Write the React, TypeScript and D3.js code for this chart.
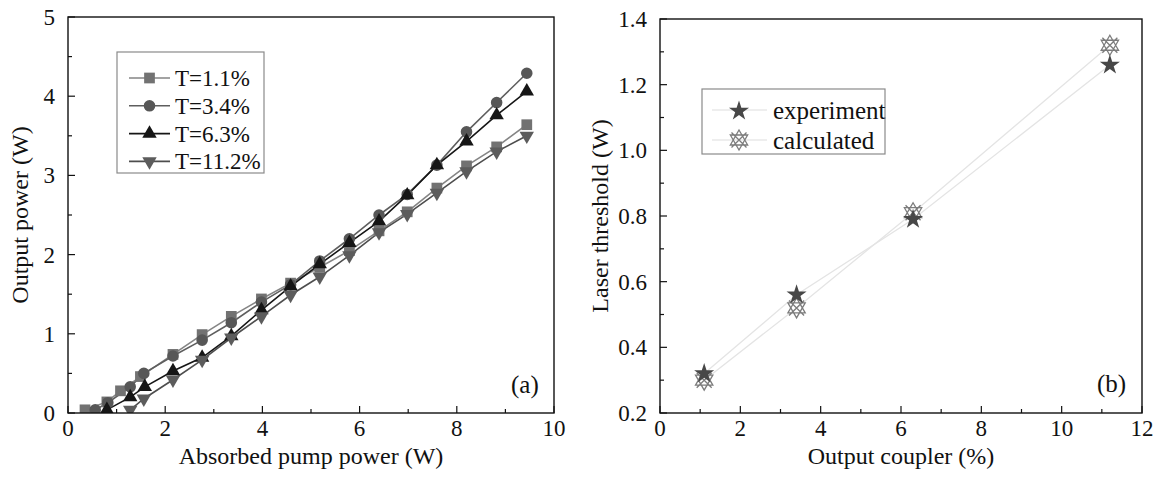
import React from "react";
import * as d3 from "d3";

// panel (a): absorbed pump power (W) vs output power (W)
const pumpT11 = [0.35, 0.8, 1.08, 1.49, 2.16, 2.76, 3.36, 3.98, 4.58, 5.18, 5.79, 6.4, 6.98, 7.59, 8.2, 8.82, 9.44];
const outT11 = [0.04, 0.14, 0.28, 0.46, 0.74, 0.99, 1.22, 1.44, 1.64, 1.84, 2.05, 2.3, 2.54, 2.84, 3.12, 3.36, 3.64];
const pumpT34 = [0.56, 0.82, 1.28, 1.56, 2.16, 2.76, 3.36, 3.98, 4.58, 5.18, 5.79, 6.4, 6.98, 7.59, 8.2, 8.82, 9.44];
const outT34 = [0.04, 0.13, 0.33, 0.5, 0.72, 0.92, 1.14, 1.4, 1.62, 1.92, 2.2, 2.5, 2.76, 3.13, 3.55, 3.92, 4.29];
const pumpT63 = [0.8, 1.28, 1.58, 2.16, 2.76, 3.36, 3.98, 4.58, 5.18, 5.79, 6.4, 6.98, 7.59, 8.2, 8.82, 9.44];
const outT63 = [0.04, 0.2, 0.33, 0.53, 0.7, 0.97, 1.3, 1.6, 1.88, 2.15, 2.42, 2.75, 3.13, 3.43, 3.76, 4.06];
const pumpT112 = [1.28, 1.56, 2.16, 2.76, 3.36, 3.98, 4.58, 5.18, 5.79, 6.4, 6.98, 7.59, 8.2, 8.82, 9.44];
const outT112 = [0.04, 0.18, 0.42, 0.67, 0.95, 1.22, 1.49, 1.72, 1.99, 2.28, 2.51, 2.78, 3.05, 3.3, 3.5];
const seriesLabelsA = ["T=1.1%", "T=3.4%", "T=6.3%", "T=11.2%"];

// panel (b): output coupler (%) vs laser threshold (W)
const couplerT = [1.1, 3.4, 6.3, 11.2];
const thresholdExp = [0.32, 0.56, 0.79, 1.26];
const thresholdCalc = [0.3, 0.52, 0.81, 1.32];
const seriesLabelsB = ["experiment", "calculated"];

const xTicksA = [0, 2, 4, 6, 8, 10];
const yTicksA = [0, 1, 2, 3, 4, 5];
const xTicksB = [0, 2, 4, 6, 8, 10, 12];
const yTicksB = [0.2, 0.4, 0.6, 0.8, 1.0, 1.2, 1.4];

const FONT = "'Liberation Serif', 'DejaVu Serif', 'Times New Roman', serif";

const boxA = { left: 68, right: 554, top: 17, bottom: 413 };
const boxB = { left: 660, right: 1142, top: 19, bottom: 413 };

const xA = d3.scaleLinear().domain([0, 10]).range([boxA.left, boxA.right]);
const yA = d3.scaleLinear().domain([0, 5]).range([boxA.bottom, boxA.top]);
const xB = d3.scaleLinear().domain([0, 12]).range([boxB.left, boxB.right]);
const yB = d3.scaleLinear().domain([0.2, 1.4]).range([boxB.bottom, boxB.top]);

const seriesA = [
  { label: seriesLabelsA[0], xs: pumpT11, ys: outT11, type: d3.symbolSquare, size: 115, rot: 0, fill: "#727272", line: "#858585" },
  { label: seriesLabelsA[1], xs: pumpT34, ys: outT34, type: d3.symbolCircle, size: 105, rot: 0, fill: "#575757", line: "#5e5e5e" },
  { label: seriesLabelsA[2], xs: pumpT63, ys: outT63, type: d3.symbolTriangle, size: 90, rot: 0, fill: "#161616", line: "#161616" },
  { label: seriesLabelsA[3], xs: pumpT112, ys: outT112, type: d3.symbolTriangle, size: 90, rot: 180, fill: "#5c5c5c", line: "#4e4e4e" },
];

const lineGen = d3.line<[number, number]>();

function calcMarker(cx: number, cy: number, r: number) {
  const p = d3.path();
  const tri = (start: number) => {
    for (let i = 0; i < 3; i++) {
      const a = ((start + i * 120) * Math.PI) / 180;
      const px = cx + r * Math.cos(a);
      const py = cy + r * Math.sin(a);
      if (i === 0) p.moveTo(px, py);
      else p.lineTo(px, py);
    }
    p.closePath();
  };
  tri(-90);
  tri(90);
  const d = r * 0.75;
  p.moveTo(cx - d, cy - d);
  p.lineTo(cx + d, cy + d);
  p.moveTo(cx + d, cy - d);
  p.lineTo(cx - d, cy + d);
  return p.toString();
}

const Frame = ({ box, x, y, xTicks, yTicks, xMinor, yMinor, fmt }: any) => (
  <g>
    <rect x={box.left} y={box.top} width={box.right - box.left} height={box.bottom - box.top} fill="none" stroke="#111" strokeWidth={1.4} />
    {xMinor.map((t: number) => {
      const major = xTicks.some((m: number) => Math.abs(m - t) < 1e-9);
      return <line key={"xm" + t} x1={x(t)} x2={x(t)} y1={box.bottom} y2={box.bottom - (major ? 7 : 4)} stroke="#111" strokeWidth={1.2} />;
    })}
    {yMinor.map((t: number) => {
      const major = yTicks.some((m: number) => Math.abs(m - t) < 1e-9);
      return <line key={"ym" + t} x1={box.left} x2={box.left + (major ? 7 : 4)} y1={y(t)} y2={y(t)} stroke="#111" strokeWidth={1.2} />;
    })}
    {xTicks.map((t: number) => (
      <text key={"xl" + t} x={x(t)} y={box.bottom + 23} textAnchor="middle" fontSize={23} fill="#111">{t}</text>
    ))}
    {yTicks.map((t: number) => (
      <text key={"yl" + t} x={box.left - 13} y={y(t)} dy="0.35em" textAnchor="end" fontSize={23} fill="#111">{fmt(t)}</text>
    ))}
  </g>
);

export default function App() {
  return (
    <svg width={1156} height={479} style={{ position: "absolute", left: 0, top: 0, background: "#fff", fontFamily: FONT }}>
      <defs>
        <style>{`text { font-family: ${FONT}; }`}</style>
        <clipPath id="clipA">
          <rect x={boxA.left} y={boxA.top} width={boxA.right - boxA.left} height={boxA.bottom - boxA.top} />
        </clipPath>
      </defs>

      {/* panel (a) */}
      <g clipPath="url(#clipA)">
        {seriesA.map((s) => (
          <path key={"l" + s.label} d={lineGen(s.xs.map((v, i) => [xA(v), yA(s.ys[i])]))!} fill="none" stroke={s.line} strokeWidth={1.6} />
        ))}
        {seriesA.map((s) =>
          s.xs.map((v, i) => (
            <path key={s.label + i} d={d3.symbol(s.type, s.size)()!} transform={`translate(${xA(v)},${yA(s.ys[i])}) rotate(${s.rot})`} fill={s.fill} />
          ))
        )}
      </g>
      <Frame box={boxA} x={xA} y={yA} xTicks={xTicksA} yTicks={yTicksA} xMinor={xA.ticks(10)} yMinor={yA.ticks(10)} fmt={(t: number) => String(t)} />
      <rect x={117} y={52} width={147} height={121} fill="#fff" stroke="#8a8a8a" strokeWidth={1.2} />
      {seriesA.map((s, i) => {
        const cy = 78 + i * 27.8;
        return (
          <g key={"lg" + s.label}>
            <line x1={129} x2={170} y1={cy} y2={cy} stroke={s.line} strokeWidth={1.6} />
            <path d={d3.symbol(s.type, s.size)()!} transform={`translate(149.5,${cy}) rotate(${s.rot})`} fill={s.fill} />
            <text x={175} y={cy} dy="0.35em" fontSize={23} fill="#111">{s.label}</text>
          </g>
        );
      })}
      <text x={511} y={393} fontSize={25} fill="#111">(a)</text>
      <text x={311} y={464} textAnchor="middle" fontSize={24} fill="#111">Absorbed pump power (W)</text>
      <text transform={`translate(28,${(boxA.top + boxA.bottom) / 2}) rotate(-90)`} textAnchor="middle" fontSize={24} fill="#111">Output power (W)</text>

      {/* panel (b) */}
      <path d={lineGen(couplerT.map((v, i) => [xB(v), yB(thresholdExp[i])]))!} fill="none" stroke="#e4e4e4" strokeWidth={1.3} />
      <path d={lineGen(couplerT.map((v, i) => [xB(v), yB(thresholdCalc[i])]))!} fill="none" stroke="#e4e4e4" strokeWidth={1.3} />
      {couplerT.map((v, i) => (
        <path key={"c" + i} d={calcMarker(xB(v), yB(thresholdCalc[i]), 10)} fill="none" stroke="#7c7c7c" strokeWidth={1.3} />
      ))}
      {couplerT.map((v, i) => (
        <path key={"e" + i} d={d3.symbol(d3.symbolStar, 125)()!} transform={`translate(${xB(v)},${yB(thresholdExp[i])})`} fill="#474747" />
      ))}
      <Frame box={boxB} x={xB} y={yB} xTicks={xTicksB} yTicks={yTicksB} xMinor={xB.ticks(12)} yMinor={yB.ticks(12)} fmt={(t: number) => t.toFixed(1)} />
      <rect x={702} y={89} width={183} height={65} fill="#fff" stroke="#8a8a8a" strokeWidth={1.2} />
      <line x1={712} x2={767} y1={110} y2={110} stroke="#e8e8e8" strokeWidth={1.3} />
      <line x1={712} x2={767} y1={140} y2={140} stroke="#e8e8e8" strokeWidth={1.3} />
      <path d={d3.symbol(d3.symbolStar, 125)()!} transform="translate(739,111)" fill="#474747" />
      <path d={calcMarker(739, 140, 10)} fill="none" stroke="#7c7c7c" strokeWidth={1.3} />
      <text x={773} y={110} dy="0.35em" fontSize={25} fill="#111">{seriesLabelsB[0]}</text>
      <text x={773} y={140} dy="0.35em" fontSize={25} fill="#111">{seriesLabelsB[1]}</text>
      <text x={1097} y={392} fontSize={25} fill="#111">(b)</text>
      <text x={901} y={464} textAnchor="middle" fontSize={24} fill="#111">Output coupler (%)</text>
      <text transform={`translate(608,${(boxB.top + boxB.bottom) / 2}) rotate(-90)`} textAnchor="middle" fontSize={24} fill="#111">Laser threshold (W)</text>
    </svg>
  );
}
